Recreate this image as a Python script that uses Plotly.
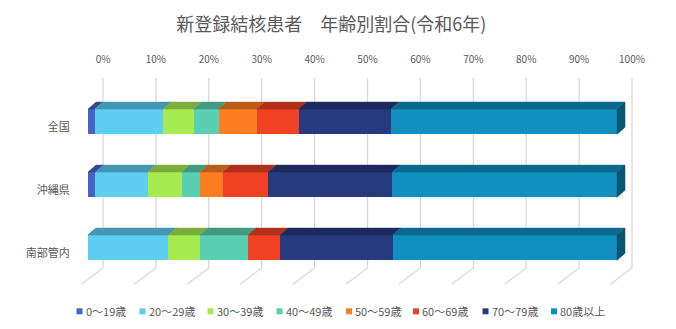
import plotly.graph_objects as go

# ---- data -------------------------------------------------------------
categories = ["全国", "沖縄県", "南部管内"]
age_groups = ["0〜19歳", "20〜29歳", "30〜39歳", "40〜49歳",
              "50〜59歳", "60〜69歳", "70〜79歳", "80歳以上"]

# share of newly registered TB patients by age group (%), one list per group
share_0_19 = [1.3, 1.4, 0.0]
share_20_29 = [12.9, 9.9, 15.2]
share_30_39 = [5.8, 6.4, 6.0]
share_40_49 = [4.7, 3.5, 9.1]
share_50_59 = [7.2, 4.3, 0.0]
share_60_69 = [7.9, 8.6, 6.0]
share_70_79 = [17.5, 23.4, 21.3]
share_80_up = [42.7, 42.5, 42.4]

series = [share_0_19, share_20_29, share_30_39, share_40_49,
          share_50_59, share_60_69, share_70_79, share_80_up]

tick_values = [0, 10, 20, 30, 40, 50, 60, 70, 80, 90, 100]

# ---- styling -----------------------------------------------------------
colors = ["#4a62c6", "#5dcdf2", "#a7eb52", "#5bcfb1",
          "#fd7e21", "#f04125", "#283a7e", "#118fbf"]
TEXT = "#595959"
FONT = "Noto Sans CJK JP"
GRID = "#d9d9d9"

W, H = 676, 329
L, R, T, B = 76, 26, 78, 43
plot_w, plot_h = W - L - R, H - T - B

PX_PER_X = 5.29          # pixels per percentage point on the bar front plane
PX_PER_Y = 63.0          # pixels per category step
x_min = -(88 - L) / PX_PER_X
x_max = x_min + plot_w / PX_PER_X
y_min = -(121.7 - T) / PX_PER_Y
y_max = y_min + plot_h / PX_PER_Y

BAR_W = 0.4
DEPTH_X = 8 / PX_PER_X            # bar depth, drawn toward upper right
DEPTH_Y = -7 / PX_PER_Y
WALL_X = 15 / PX_PER_X            # back wall sits behind the bars
WALL_BOTTOM = y_min + 190 / PX_PER_Y
FLOOR_X = -21.6 / PX_PER_X
FLOOR_Y = 16.3 / PX_PER_Y
LABEL_SHIFT = 5 / PX_PER_Y


def shade(hex_color, k):
    h = hex_color.lstrip("#")
    r, g, b = (int(h[i:i + 2], 16) for i in (0, 2, 4))
    return "rgb({},{},{})".format(int(r * k), int(g * k), int(b * k))


fig = go.Figure()
ypos = list(range(len(categories)))

# front faces of the stacked bars
for name, vals, col in zip(age_groups, series, colors):
    fig.add_trace(go.Bar(
        y=ypos, x=vals, orientation="h", name=name, width=BAR_W,
        marker=dict(color=col, line=dict(width=0)),
        showlegend=False, hoverinfo="x+name",
    ))

# top faces (and right end face) giving the bars depth
starts = [0.0] * len(categories)
for k, (vals, col) in enumerate(zip(series, colors)):
    xs, ys = [], []
    for i, v in enumerate(vals):
        x0, x1 = starts[i], starts[i] + v
        yt = i - BAR_W / 2
        xs += [x0, x1, x1 + DEPTH_X, x0 + DEPTH_X, x0, None]
        ys += [yt, yt, yt + DEPTH_Y, yt + DEPTH_Y, yt, None]
        starts[i] = x1
    top = shade(col, 0.74)
    fig.add_trace(go.Scatter(
        x=xs, y=ys, mode="lines", fill="toself", fillcolor=top,
        line=dict(color=top, width=0.5), showlegend=False, hoverinfo="skip"))

xs, ys = [], []
for i, end in enumerate(starts):
    yt, yb = i - BAR_W / 2, i + BAR_W / 2
    xs += [end, end + DEPTH_X, end + DEPTH_X, end, end, None]
    ys += [yt, yt + DEPTH_Y, yb + DEPTH_Y, yb, yt, None]
side = shade(colors[-1], 0.6)
fig.add_trace(go.Scatter(
    x=xs, y=ys, mode="lines", fill="toself", fillcolor=side,
    line=dict(color=side, width=0.5), showlegend=False, hoverinfo="skip"))

# back-wall gridlines with their floor segments
shapes = []
for v in tick_values:
    gx = v + WALL_X
    path = "M {a},{b} L {a},{c} L {d},{e}".format(
        a=gx, b=y_min, c=WALL_BOTTOM, d=gx + FLOOR_X, e=WALL_BOTTOM + FLOOR_Y)
    shapes.append(dict(type="path", path=path, xref="x", yref="y",
                       line=dict(color=GRID, width=1.3), layer="below"))

# legend row
legend_left_px = [76.5, 139.5, 207.5, 276.5, 346, 413, 482.5, 551]
legend_cy = 311.3
annotations = []
for name, col, px in zip(age_groups, colors, legend_left_px):
    shapes.append(dict(
        type="rect", xref="paper", yref="paper",
        x0=(px - L) / plot_w, x1=(px + 6 - L) / plot_w,
        y0=(H - B - (legend_cy + 3)) / plot_h, y1=(H - B - (legend_cy - 3)) / plot_h,
        fillcolor=col, line=dict(width=0)))
    annotations.append(dict(
        text=name, xref="paper", yref="paper", showarrow=False,
        x=(px + 7 - L) / plot_w, y=(H - B - legend_cy) / plot_h,
        xanchor="left", yanchor="middle",
        font=dict(family=FONT, size=11, color=TEXT)))

fig.update_layout(
    width=W, height=H,
    margin=dict(l=L, r=R, t=T, b=B, pad=0),
    paper_bgcolor="white", plot_bgcolor="white",
    barmode="stack",
    title=dict(text="新登録結核患者　年齢別割合(令和6年)",
               x=0.49, xanchor="center", y=1 - 25 / H, yanchor="middle",
               yref="container",
               font=dict(family=FONT, size=18, color=TEXT)),
    xaxis=dict(range=[x_min, x_max], side="top",
               tickvals=[v + WALL_X for v in tick_values],
               ticktext=["{}%".format(v) for v in tick_values],
               ticks="outside", ticklen=10, tickcolor="rgba(0,0,0,0)",
               showgrid=False, zeroline=False, showline=False,
               tickfont=dict(family=FONT, size=10, color=TEXT)),
    yaxis=dict(range=[y_max, y_min],
               tickvals=[i + LABEL_SHIFT for i in ypos],
               ticktext=categories,
               ticks="outside", ticklen=3, tickcolor="rgba(0,0,0,0)",
               showgrid=False, zeroline=False, showline=False,
               tickfont=dict(family=FONT, size=11, color=TEXT)),
    shapes=shapes,
    annotations=annotations,
    showlegend=False,
)

fig.write_html("out.html")
